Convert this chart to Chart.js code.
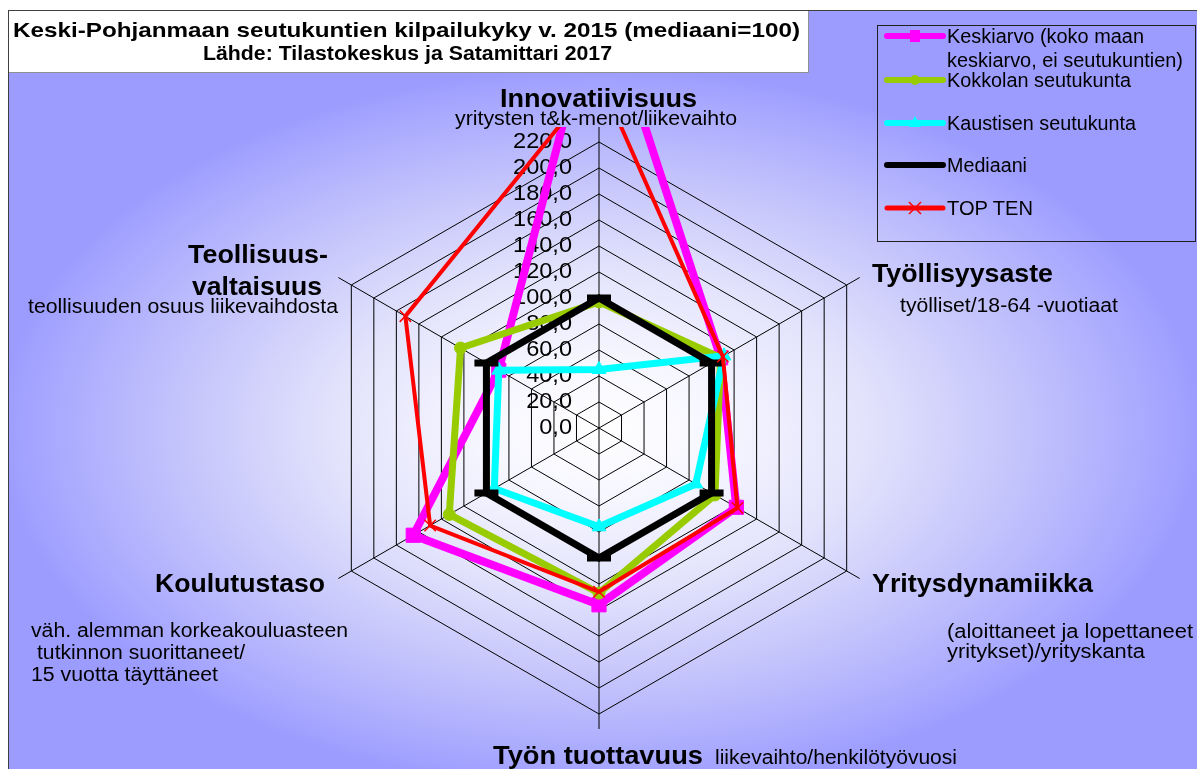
<!DOCTYPE html>
<html><head><meta charset="utf-8">
<script src="https://cdn.jsdelivr.net/npm/chart.js@4.4.0/dist/chart.umd.min.js"></script>
<style>
html,body{margin:0;padding:0;background:#fff;width:1197px;height:769px;overflow:hidden;font-family:"Liberation Sans",Arial,sans-serif;}
#frame{position:absolute;left:8px;top:10px;width:1189px;height:759px;border-left:1px solid #404040;border-top:1px solid #404040;
 background:radial-gradient(ellipse 600px 360px at 591px 418px,#ffffff 0%,#f6f6ff 20%,#e2e2fc 45%,#c4c4fc 70%,#a4a4ff 95%,#9c9cff 100%);}
#titlebox{position:absolute;left:9px;top:11px;width:799px;height:61px;background:#fff;border-right:1px solid #909090;border-bottom:1px solid #909090;}
#legendbox{position:absolute;left:877px;top:25px;width:317px;height:215px;border:1px solid #202020;}
#chart{position:absolute;left:0;top:0;}
#lg{position:absolute;left:0;top:0;pointer-events:none;}
.t{position:absolute;white-space:nowrap;line-height:1;color:#000;transform-origin:0 0;}
</style>
</head><body>
<div id="frame"></div>
<div id="titlebox"></div>
<div id="legendbox"></div>
<canvas id="chart" width="1197" height="769"></canvas>
<svg id="lg" width="1197" height="769">
  <line x1="887" y1="36" x2="943" y2="36" stroke="#ff00ff" stroke-width="6" stroke-linecap="round"/>
  <rect x="910" y="30" width="10" height="12" fill="#ff00ff"/>
  <line x1="887" y1="80" x2="943" y2="80" stroke="#99cc00" stroke-width="6" stroke-linecap="round"/>
  <circle cx="915" cy="80" r="5" fill="#99cc00"/>
  <line x1="887" y1="123" x2="943" y2="123" stroke="#00ffff" stroke-width="6" stroke-linecap="round"/>
  <polygon points="915,116 921,127 909,127" fill="#00ffff"/>
  <line x1="887" y1="165" x2="943" y2="165" stroke="#000000" stroke-width="6" stroke-linecap="round"/>
  <line x1="887" y1="208" x2="943" y2="208" stroke="#ff0000" stroke-width="5" stroke-linecap="round"/>
  <line x1="909" y1="202" x2="921" y2="214" stroke="#ff0000" stroke-width="1.5"/>
  <line x1="909" y1="214" x2="921" y2="202" stroke="#ff0000" stroke-width="1.5"/>
</svg>
<script>
// ---- data ----
const categories = ['Innovatiivisuus', 'Työllisyysaste', 'Yritysdynamiikka', 'Työn tuottavuus', 'Koulutustaso', 'Teollisuusvaltaisuus'];
const seriesNames = ['Keskiarvo (koko maan keskiarvo, ei seutukuntien)', 'Kokkolan seutukunta', 'Kaustisen seutukunta', 'Mediaani', 'TOP TEN'];
const keskiarvo = [340, 108, 122, 136, 165, 89];
const kokkola   = [97, 108, 103, 127, 133, 123];
const kaustinen = [45, 111, 86, 76, 93, 89];
const mediaani  = [100, 100, 100, 100, 100, 100];
const topTen    = [270, 110, 123, 126, 150, 172];
const tickValues = [0, 20, 40, 60, 80, 100, 120, 140, 160, 180, 200, 220];
const tickLabels = ['0,0', '20,0', '40,0', '60,0', '80,0', '100,0', '120,0', '140,0', '160,0', '180,0', '200,0', '220,0'];

// ---- text overlays ----
const texts = [
  ['Keski-Pohjanmaan seutukuntien kilpailukyky v. 2015 (mediaani=100)', 13, 37, 21, true, 787],
  ['Lähde: Tilastokeskus ja Satamittari 2017', 203, 60, 20, true, 409],
  ['Keskiarvo (koko maan', 947, 43, 20, false, 197],
  ['keskiarvo, ei seutukuntien)', 947, 67, 20, false, 236],
  ['Kokkolan seutukunta', 947, 87, 20, false, 184],
  ['Kaustisen seutukunta', 947, 130, 20, false, 189],
  ['Mediaani', 947, 172, 20, false, 80],
  ['TOP TEN', 947, 215, 20, false, 86],
  ['Innovatiivisuus', 500, 107, 26, true, 197],
  ['yritysten t&k-menot/liikevaihto', 455, 125, 20, false, 282],
  ['Työllisyysaste', 872, 282, 26, true, 181],
  ['työlliset/18-64 -vuotiaat', 900, 312, 20, false, 218],
  ['Yritysdynamiikka', 872, 592, 26, true, 221],
  ['(aloittaneet ja lopettaneet', 947, 638, 20, false, 246],
  ['yritykset)/yrityskanta', 947, 658, 20, false, 198],
  ['Työn tuottavuus', 493, 764, 26, true, 210],
  ['liikevaihto/henkilötyövuosi', 715, 764, 20, false, 242],
  ['Koulutustaso', 155, 592, 26, true, 170],
  ['väh. alemman korkeakouluasteen', 31, 637, 20, false, 317],
  ['tutkinnon suorittaneet/', 37, 659, 20, false, 208],
  ['15 vuotta täyttäneet', 31, 681, 20, false, 187],
  ['Teollisuus-', 188, 263, 26, true, 140],
  ['valtaisuus', 192, 295, 26, true, 130],
  ['teollisuuden osuus liikevaihdosta', 28, 313, 20, false, 310]
];
texts.forEach(([s, x, b, fs, bold, w]) => {
  const d = document.createElement('div');
  d.className = 't';
  d.textContent = s;
  d.style.fontSize = fs + 'px';
  d.style.fontWeight = bold ? 'bold' : 'normal';
  d.style.left = x + 'px';
  d.style.top = (b - 0.8465 * fs) + 'px';
  document.body.appendChild(d);
  const nat = d.getBoundingClientRect().width;
  if (nat > 0) d.style.transform = 'scaleX(' + (w / nat) + ')';
});

// ---- plugins ----
const tickLabelPlugin = {
  id: 'tickLabelPlugin',
  beforeDatasetsDraw(chart) {
    const s = chart.scales.r;
    const ctx = chart.ctx;
    ctx.save();
    // axis line extensions beyond outer ring
    ctx.strokeStyle = '#000';
    ctx.lineWidth = 1;
    for (let i = 0; i < categories.length; i++) {
      const p1 = s.getPointPosition(i, s.drawingArea);
      const p2 = s.getPointPosition(i, s.drawingArea + 15);
      ctx.beginPath();
      ctx.moveTo(p1.x, p1.y);
      ctx.lineTo(p2.x, p2.y);
      ctx.stroke();
    }
    ctx.font = '22px "Liberation Sans", Arial, sans-serif';
    ctx.fillStyle = '#000';
    ctx.textAlign = 'right';
    ctx.textBaseline = 'middle';
    tickValues.forEach((v, i) => {
      const y = s.yCenter - s.getDistanceFromCenterForValue(v);
      ctx.save();
      ctx.translate(s.xCenter - 27, y);
      ctx.scale(1.07, 1);
      ctx.fillText(tickLabels[i], 0, 0);
      ctx.restore();
    });
    ctx.restore();
  }
};

const clipTop = {left: false, right: false, bottom: false, top: 15};
const ds = (label, data, color, width, style, radius, order, pbw) => ({
  label, data,
  borderColor: color, backgroundColor: 'transparent',
  borderWidth: width, fill: false,
  pointStyle: style, pointRadius: radius, pointHoverRadius: radius,
  pointBackgroundColor: color, pointBorderColor: color, pointBorderWidth: pbw,
  order, clip: clipTop
});

new Chart(document.getElementById('chart'), {
  type: 'radar',
  data: {
    labels: categories,
    datasets: [
      ds(seriesNames[0], keskiarvo, '#ff00ff', 8, 'rect', 10, 4, 1),
      ds(seriesNames[1], kokkola, '#99cc00', 7, 'circle', 6, 3, 1),
      ds(seriesNames[2], kaustinen, '#00ffff', 7, 'triangle', 8, 2, 1),
      ds(seriesNames[3], mediaani, '#000000', 7, 'line', 12, 1, 7),
      ds(seriesNames[4], topTen, '#ff0000', 4, 'crossRot', 8, 0, 1.5)
    ]
  },
  options: {
    responsive: false,
    devicePixelRatio: 1,
    animation: false,
    layout: {padding: {left: 313, right: 312, top: 142, bottom: 55}},
    plugins: {legend: {display: false}, title: {display: false}, tooltip: {enabled: false}},
    elements: {line: {tension: 0, borderJoinStyle: 'miter'}},
    scales: {
      r: {
        min: 0, max: 220,
        ticks: {display: false, stepSize: 20},
        grid: {color: '#000', lineWidth: 1, circular: false},
        angleLines: {color: '#000', lineWidth: 1},
        pointLabels: {display: false}
      }
    }
  },
  plugins: [tickLabelPlugin]
});
</script>
</body></html>
